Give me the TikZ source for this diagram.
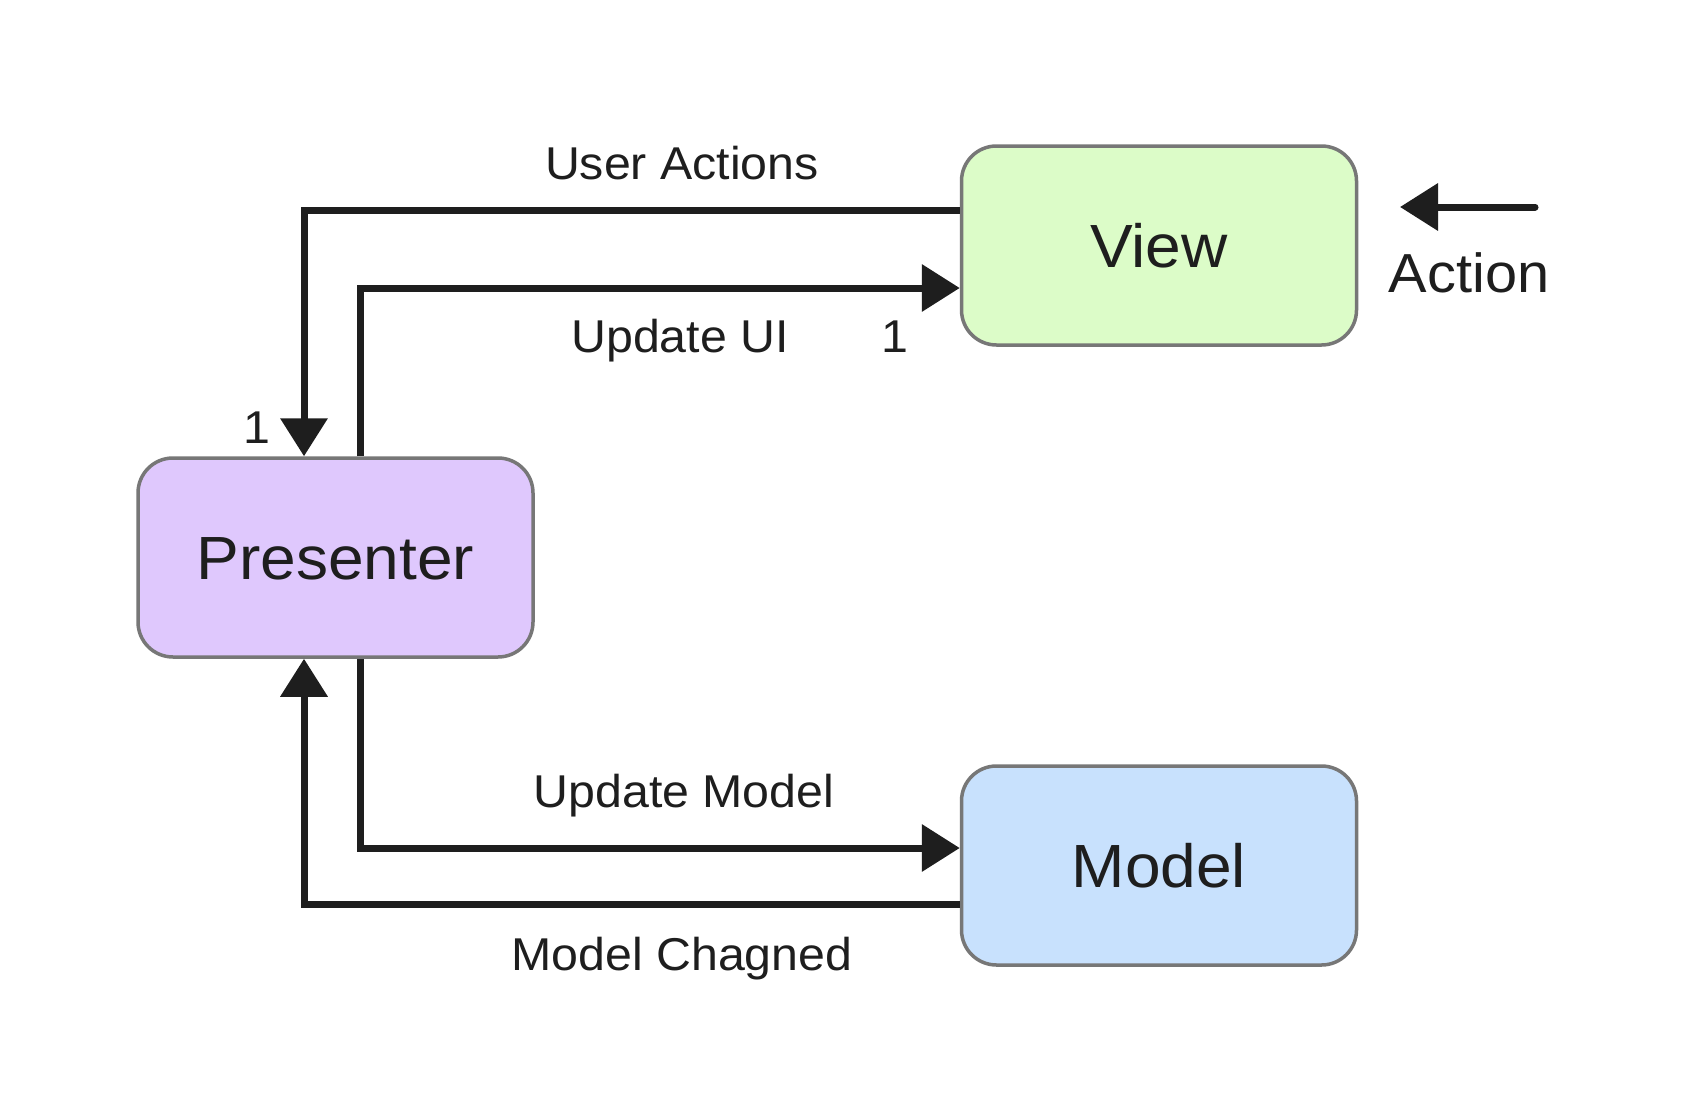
\documentclass[tikz,border=0pt]{standalone}
\usepackage{fontspec}
\setmainfont{Liberation Sans}[FakeStretch=1.05]
\usetikzlibrary{arrows.meta}
\definecolor{ink}{HTML}{1E1E1E}
\definecolor{edgegray}{HTML}{777777}
\definecolor{viewfill}{HTML}{DCFCC8}
\definecolor{presfill}{HTML}{DFC8FD}
\definecolor{modelfill}{HTML}{C8E1FD}
\tikzset{
  box/.style={draw=edgegray, line width=3.5pt, rounded corners=35pt,
    minimum width=395pt, minimum height=199pt, inner sep=0pt,
    text height=44pt, text depth=0pt, text=ink,
    font=\fontsize{61}{70}\selectfont},
  conn/.style={draw=ink, line width=7pt, line join=miter,
    -{Triangle[length=38pt,width=46pt]}},
  lbl/.style={anchor=base, text=ink, inner sep=0pt, font=\fontsize{46}{54}\selectfont},
}
\begin{document}
\begin{tikzpicture}[x=1pt,y=-1pt]
\useasboundingbox[fill=white] (0,0) rectangle (1688,1116);
\node[box, fill=viewfill] (view) at (1159,245.5) {View};
\node[box, fill=presfill] (pres) at (335.5,557.5) {Presenter};
\node[box, fill=modelfill] (model) at (1159,865.5) {Model};

\draw[conn] ([yshift=35pt]view.west) -| ([xshift=-31.5pt]pres.north);
\draw[conn] ([xshift=24.5pt]pres.north) |- ([yshift=-42.5pt]view.west);
\draw[conn] ([xshift=24.5pt]pres.south) |- ([yshift=17.5pt]model.west);
\draw[conn] ([yshift=-38.5pt]model.west) -| ([xshift=-31.5pt]pres.south);

\coordinate (actstart) at (1535,207);
\coordinate (actend) at (1400,207);
\draw[draw=ink, line width=7pt, line cap=round, -{Triangle[length=38pt,width=46pt]}] (actstart) -- (actend);

\node[lbl] (ua) at (682,179) {User Actions};
\node[lbl] (uui) at (680,352) {Update UI};
\node[lbl] (one1) at (895,352) {1};
\node[lbl] (one2) at (257,443) {1};
\node[lbl] (um) at (684,807) {Update Model};
\node[lbl] (mc) at (682,970) {Model Chagned};
\node[lbl, font=\fontsize{55}{66}\selectfont] (act) at (1469,292) {Action};
\end{tikzpicture}
\end{document}
